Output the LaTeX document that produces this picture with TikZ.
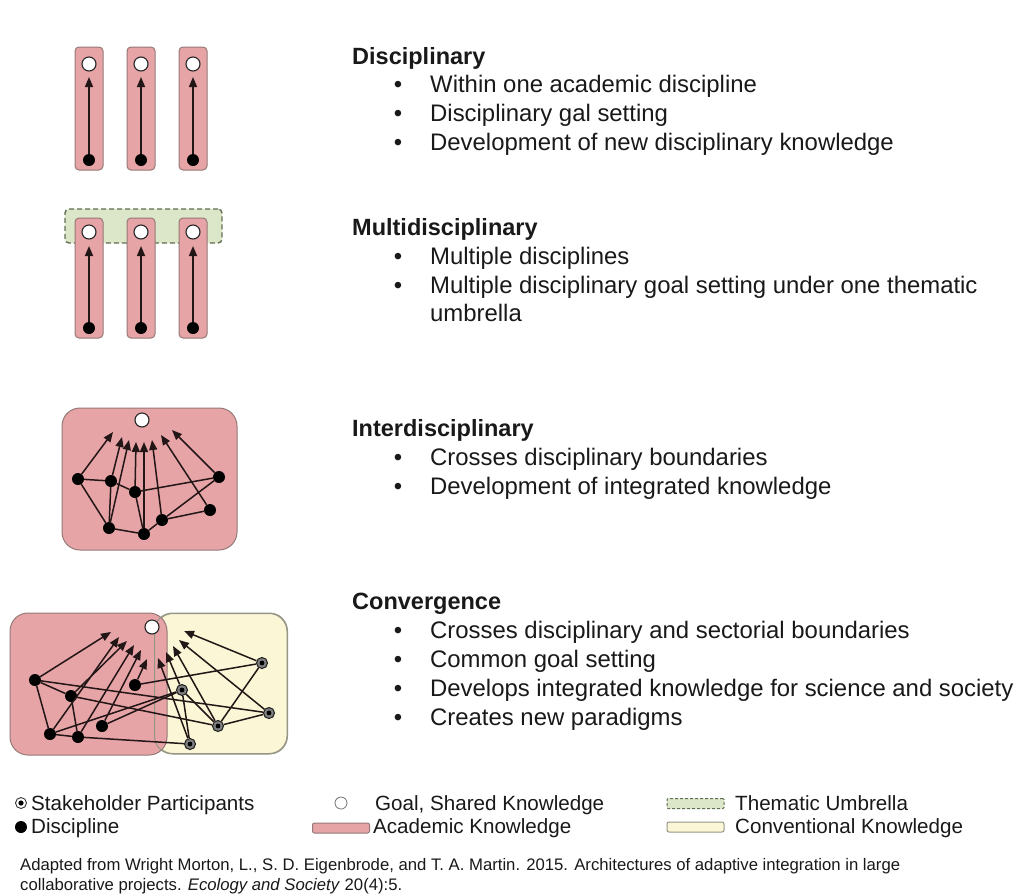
\documentclass[tikz,border=0pt]{standalone}
\usepackage{fontspec}
\setmainfont{Liberation Sans}
\usetikzlibrary{arrows.meta}

\definecolor{pinkfill}{RGB}{230,164,166}
\definecolor{pinkline}{RGB}{150,120,120}
\definecolor{creamfill}{RGB}{251,246,214}
\definecolor{creamline}{RGB}{150,150,135}
\definecolor{greenfill}{RGB}{220,230,200}
\definecolor{greenline}{RGB}{95,110,80}
\definecolor{linecol}{RGB}{35,22,22}
\definecolor{textcol}{RGB}{25,25,25}

\begin{document}
\begin{tikzpicture}[x=1pt,y=-1pt,
  academic/.style={draw=pinkline, fill=pinkfill, line width=1pt},
  conventional/.style={draw=creamline, fill=creamfill, line width=1pt},
  umbrella/.style={draw=greenline, fill=greenfill, line width=1.4pt, dashed, dash pattern=on 5pt off 3pt, rounded corners=4pt},
  goal/.style={circle, draw=black!85, fill=white, line width=1.1pt, minimum size=14pt, inner sep=0pt},
  disc/.style={circle, fill=black, minimum size=12pt, inner sep=0pt},
  stake/.style={circle, fill=black!50, draw=black!85, line width=1.1pt, minimum size=11pt, inner sep=0pt,
    path picture={\fill[black] (path picture bounding box.center) circle (2.4pt);}},
  flow/.style={draw=linecol, line width=1.5pt, -{Triangle[length=10pt,width=8pt]}},
  link/.style={draw=linecol, line width=1.5pt},
  title/.style={anchor=base west, inner sep=0pt, text=textcol, font=\fontsize{23.5}{28}\selectfont\bfseries},
  item/.style={anchor=base west, inner sep=0pt, text=textcol, font=\fontsize{23.9}{28}\selectfont},
  bul/.style={anchor=base, inner sep=0pt, text=textcol, font=\fontsize{23.9}{28}\selectfont},
  legtext/.style={anchor=base west, inner sep=0pt, text=textcol, font=\fontsize{20.6}{24}\selectfont},
  cite/.style={anchor=base west, inner sep=0pt, text=textcol, font=\fontsize{16.7}{20}\selectfont}]

\useasboundingbox[fill=white] (0,0) rectangle (1017,895);

% ---------------- Disciplinary ----------------
\foreach \i/\x in {1/89,2/141,3/193} {
  \node[academic, rounded corners=4pt, minimum width=28pt, minimum height=123pt] (dbox\i) at (\x,108.5) {};
  \node[goal] (dgoal\i) at (\x,64) {};
  \node[disc] (ddisc\i) at (\x,160) {};
  \coordinate (dtip\i) at (\x,77);
  \draw[flow] (ddisc\i) -- (dtip\i);
}
\node[title] (t1) at (352,64) {Disciplinary};
\node[bul] (b11) at (398,92) {•};
\node[item] (i11) at (430,92) {Within one academic discipline};
\node[bul] (b12) at (398,121) {•};
\node[item] (i12) at (430,121) {Disciplinary gal setting};
\node[bul] (b13) at (398,150) {•};
\node[item] (i13) at (430,150) {Development of new disciplinary knowledge};

% ---------------- Multidisciplinary ----------------
\node[umbrella, minimum width=157pt, minimum height=34pt] (umb) at (143.5,226) {};
\foreach \i/\x in {1/89,2/141,3/193} {
  \node[academic, rounded corners=4pt, minimum width=28pt, minimum height=120pt] (mbox\i) at (\x,278) {};
  \node[goal] (mgoal\i) at (\x,232) {};
  \node[disc] (mdisc\i) at (\x,328) {};
  \coordinate (mtip\i) at (\x,246);
  \draw[flow] (mdisc\i) -- (mtip\i);
}
\node[title] (t2) at (352,235) {Multidisciplinary};
\node[bul] (b21) at (398,264) {•};
\node[item] (i21) at (430,264) {Multiple disciplines};
\node[bul] (b22) at (398,293) {•};
\node[item] (i22) at (430,293) {Multiple disciplinary goal setting under one thematic};
\node[item] (i23) at (430,321) {umbrella};

% ---------------- Interdisciplinary ----------------
\node[academic, rounded corners=18pt, minimum width=175pt, minimum height=142pt] (ibox) at (149.5,479) {};
\node[goal] (igoal) at (142,420) {};
\node[disc] (ia) at (78,479) {};
\node[disc] (ib) at (111,481) {};
\node[disc] (ic) at (135,492) {};
\node[disc] (id) at (219,477) {};
\node[disc] (ie) at (210,510) {};
\node[disc] (if) at (162,520) {};
\node[disc] (ig) at (109,528) {};
\node[disc] (ih) at (144,534) {};
\coordinate (ita) at (113,432);
\coordinate (itb) at (122,437);
\coordinate (itg) at (129,440);
\coordinate (itc) at (136,442);
\coordinate (ith) at (144,442);
\coordinate (itf) at (152,440);
\coordinate (ite) at (161,435);
\coordinate (itd) at (172,430);
\draw[link] (ia) -- (ib);
\draw[link] (ia) -- (ig);
\draw[link] (ib) -- (ig);
\draw[link] (ib) -- (ic);
\draw[link] (ic) -- (id);
\draw[link] (ic) -- (ih);
\draw[link] (ig) -- (ih);
\draw[link] (ih) -- (if);
\draw[link] (if) -- (ie);
\draw[link] (if) -- (id);
\draw[flow] (ia) -- (ita);
\draw[flow] (ib) -- (itb);
\draw[flow] (ig) -- (itg);
\draw[flow] (ic) -- (itc);
\draw[flow] (ih) -- (ith);
\draw[flow] (if) -- (itf);
\draw[flow] (ie) -- (ite);
\draw[flow] (id) -- (itd);
\node[title] (t3) at (352,436) {Interdisciplinary};
\node[bul] (b31) at (398,465) {•};
\node[item] (i31) at (430,465) {Crosses disciplinary boundaries};
\node[bul] (b32) at (398,494) {•};
\node[item] (i32) at (430,494) {Development of integrated knowledge};

% ---------------- Convergence ----------------
\node[conventional, rounded corners=18pt, minimum width=132pt, minimum height=140pt] (cyel) at (221,683.5) {};
\node[academic, rounded corners=18pt, minimum width=157pt, minimum height=142pt] (cpink) at (88.5,684) {};
\draw[creamline, line width=1pt, rounded corners=18pt] (cyel.north west) rectangle (cyel.south east);
\node[goal] (cgoal) at (152,627) {};
\node[disc] (p1) at (35,680) {};
\node[disc] (p2) at (71,696) {};
\node[disc] (p3) at (135,685) {};
\node[disc] (p4) at (50,734) {};
\node[disc] (p5) at (78,737) {};
\node[disc] (p6) at (102,726) {};
\node[stake] (s1) at (262,663) {};
\node[stake] (s2) at (182,690) {};
\node[stake] (s3) at (269,713) {};
\node[stake] (s4) at (218,726) {};
\node[stake] (s5) at (190,744) {};
\coordinate (ct1) at (111,632);
\coordinate (ct4) at (119,637);
\coordinate (ct2) at (127,641);
\coordinate (ct5) at (134,645);
\coordinate (ct6) at (141,650);
\coordinate (ct3) at (147,659);
\coordinate (cs5) at (158,658);
\coordinate (cs2) at (166,652);
\coordinate (cs4) at (173,646);
\coordinate (cs3) at (179,640);
\coordinate (cs1) at (184,631);
\draw[link] (p1) -- (p2);
\draw[link] (p1) -- (p4);
\draw[link] (p1) -- (s3);
\draw[link] (p2) -- (p5);
\draw[link] (p2) -- (s4);
\draw[link] (p3) -- (s1);
\draw[link] (p4) -- (p5);
\draw[link] (p4) -- (s2);
\draw[link] (p5) -- (s5);
\draw[link] (p6) -- (s2);
\draw[link] (s2) -- (s4);
\draw[link] (s2) -- (s5);
\draw[link] (s4) -- (s3);
\draw[link] (s1) -- (s4);
\draw[flow] (p1) -- (ct1);
\draw[flow] (p4) -- (ct4);
\draw[flow] (p2) -- (ct2);
\draw[flow] (p5) -- (ct5);
\draw[flow] (p6) -- (ct6);
\draw[flow] (p3) -- (ct3);
\draw[flow] (s5) -- (cs5);
\draw[flow] (s2) -- (cs2);
\draw[flow] (s4) -- (cs4);
\draw[flow] (s3) -- (cs3);
\draw[flow] (s1) -- (cs1);
\node[title] (t4) at (352,609) {Convergence};
\node[bul] (b41) at (398,638) {•};
\node[item] (i41) at (430,638) {Crosses disciplinary and sectorial boundaries};
\node[bul] (b42) at (398,667) {•};
\node[item] (i42) at (430,667) {Common goal setting};
\node[bul] (b43) at (398,696) {•};
\node[item] (i43) at (430,696) {Develops integrated knowledge for science and society};
\node[bul] (b44) at (398,725) {•};
\node[item] (i44) at (430,725) {Creates new paradigms};

% ---------------- Legend ----------------
\node[circle, draw=black!80, fill=white, line width=0.9pt, minimum size=11pt, inner sep=0pt,
  path picture={\fill[black] (path picture bounding box.center) circle (2.6pt);}] (lstake) at (21,803) {};
\node[legtext] (lt1) at (31,810) {Stakeholder Participants};
\node[disc, minimum size=12pt] (ldisc) at (21,827) {};
\node[legtext] (lt2) at (31,833) {Discipline};
\node[goal, draw=black!55, line width=0.8pt, minimum size=12pt] (lgoal) at (341,803) {};
\node[legtext] (lt3) at (375,810) {Goal, Shared Knowledge};
\node[academic, rounded corners=2pt, minimum width=57pt, minimum height=10pt] (lacad) at (341,828) {};
\node[legtext] (lt4) at (373,833) {Academic Knowledge};
\node[umbrella, line width=1pt, dash pattern=on 3pt off 2pt, rounded corners=1pt, minimum width=57pt, minimum height=10pt] (lumb) at (695.5,803.5) {};
\node[legtext] (lt5) at (735,810) {Thematic Umbrella};
\node[conventional, rounded corners=2pt, minimum width=57pt, minimum height=10pt] (lconv) at (695.5,827) {};
\node[legtext] (lt6) at (735,833) {Conventional Knowledge};

% ---------------- Source ----------------
\node[cite] (c1) at (20,870) {Adapted from Wright Morton, L., S. D. Eigenbrode, and T. A. Martin. 2015. Architectures of adaptive integration in large};
\node[cite] (c2) at (20,890) {collaborative projects. \textit{Ecology and Society} 20(4):5.};
\end{tikzpicture}
\end{document}
